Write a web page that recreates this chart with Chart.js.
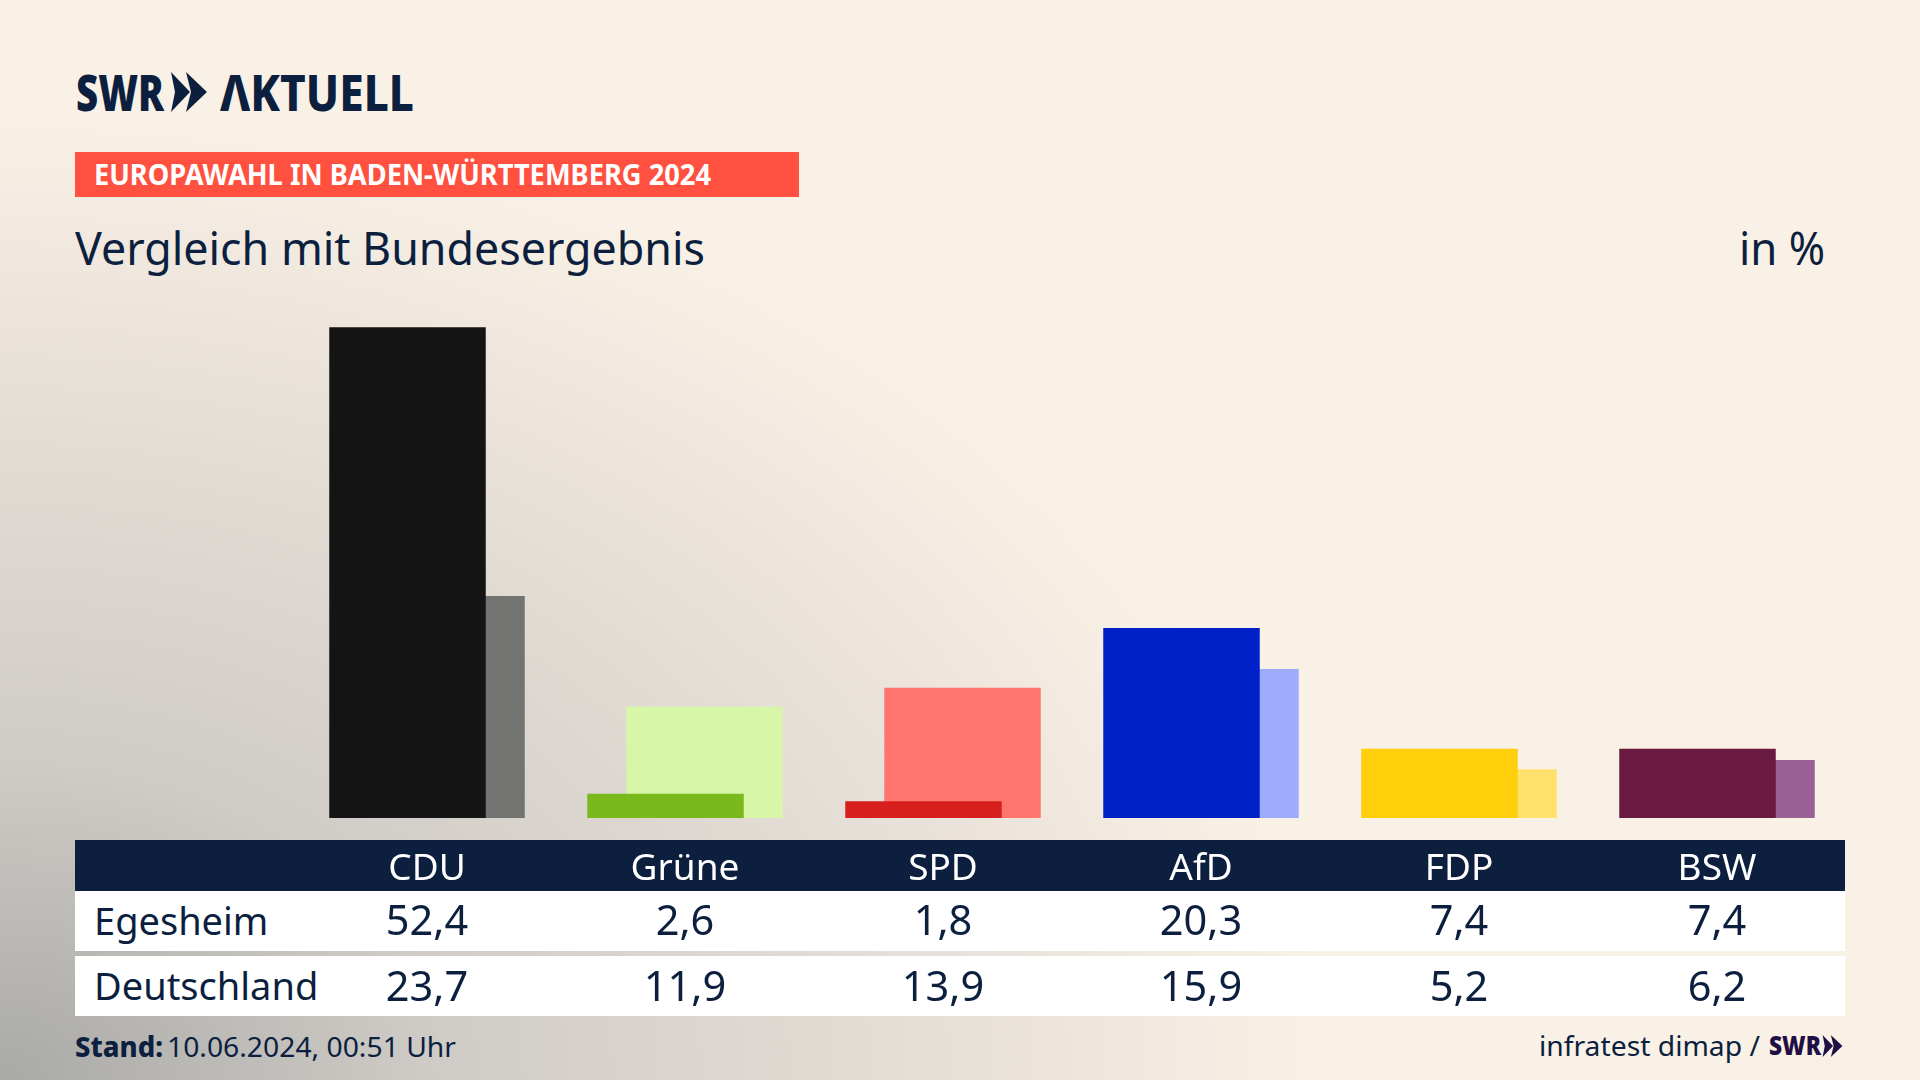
<!DOCTYPE html>
<html lang="de">
<head>
<meta charset="utf-8">
<title>Vergleich mit Bundesergebnis</title>
<script src="https://cdn.jsdelivr.net/npm/chart.js@4"></script>
<style>
  html, body { margin: 0; padding: 0; }
  body {
    width: 1920px; height: 1080px; position: relative; overflow: hidden;
    background: radial-gradient(ellipse 1450px 1060px at 0% 100%, #a9a9a7 0%, #cfcbc6 30%, #e2dbd4 58%, #faf1e6 92%), #faf1e6;
    font-family: "Noto Sans", sans-serif; color: #0c1f3f;
  }
  .abs { position: absolute; white-space: nowrap; transform-origin: left center; line-height: 1; }
  .box { position: absolute; }
  #chartWrap { position: absolute; left: 298px; top: 303px; width: 1548px; height: 597px; }
</style>
</head>
<body>
<div class="box" style="left:75px;top:152px;width:724px;height:45px;background:#ff5040"></div>
<div class="box" style="left:75px;top:840px;width:1770px;height:51px;background:#0c1f3f"></div>
<div class="box" style="left:75px;top:891px;width:1770px;height:60px;background:#fff"></div>
<div class="box" style="left:75px;top:956px;width:1770px;height:60px;background:#fff"></div>

<div id="chartWrap"><canvas id="resultChart"></canvas></div>

<div class="abs" data-w="88" style="left:76px;top:67px;font-size:50px;font-weight:900">SWR</div>
<svg class="box" style="left:171px;top:72px" width="36" height="40" viewBox="0 0 36 40">
  <polygon points="0,0 19,20 0,40 4,20" fill="#0c1f3f"/>
  <polygon points="15,0 36,20 15,40 20,20" fill="#0c1f3f"/>
</svg>
<div class="abs" data-w="194" style="left:220px;top:67px;font-size:50px;font-weight:800">ΛKTUELL</div>
<div class="abs" data-w="617" style="left:94px;top:160px;font-size:28px;font-weight:700;color:#fff">EUROPAWAHL IN BADEN-WÜRTTEMBERG 2024</div>
<div class="abs" data-w="630" style="left:75px;top:225px;font-size:45px">Vergleich mit Bundesergebnis</div>
<div class="abs" data-w="86" style="left:1739px;top:225px;font-size:45px">in %</div>
<div class="abs" data-w="88" style="left:75px;top:1032px;font-size:28px;font-weight:800">Stand:</div>
<div class="abs" data-w="289" style="left:167px;top:1032px;font-size:28px">10.06.2024, 00:51 Uhr</div>
<div class="abs" data-w="221" style="left:1539px;top:1031px;font-size:28px">infratest dimap /</div>
<div class="abs" data-w="52" style="left:1769px;top:1031px;font-size:27px;font-weight:900;color:#1f0f45">SWR</div>
<svg class="box" style="left:1822px;top:1035px" width="21" height="22" viewBox="0 0 36 40">
  <polygon points="0,0 19,20 0,40 4,20" fill="#1f0f45"/>
  <polygon points="15,0 36,20 15,40 20,20" fill="#1f0f45"/>
</svg>

<script>
const parties = ['CDU', 'Grüne', 'SPD', 'AfD', 'FDP', 'BSW'];
const egesheim = [52.4, 2.6, 1.8, 20.3, 7.4, 7.4];
const deutschland = [23.7, 11.9, 13.9, 15.9, 5.2, 6.2];
const rowLabels = ['Egesheim', 'Deutschland'];
const egesheimColors = ['#141414', '#7ab91b', '#d7201e', '#0020c8', '#ffcf0c', '#6a1a40'];
const deutschlandColors = ['#737371', '#d7f6a8', '#ff746c', '#9eacff', '#ffe16c', '#9b6096'];

const chart = new Chart(document.getElementById('resultChart'), {
  type: 'bar',
  data: {
    labels: parties,
    datasets: [
      { label: rowLabels[0], data: egesheim, backgroundColor: egesheimColors },
      { label: rowLabels[1], data: deutschland, backgroundColor: deutschlandColors },
    ],
  },
  options: {
    responsive: true,
    maintainAspectRatio: false,
    animation: false,
    // bars overlap: the step between them is 39px, the bar itself about 156px
    categoryPercentage: 78 / 258,
    barPercentage: 156.5 / 39,
    layout: { padding: 0 },
    plugins: { legend: { display: false }, tooltip: { enabled: false } },
    scales: {
      x: {
        grid: { display: false },
        border: { display: false },
        ticks: {
          color: '#fff',
          padding: 21,
          maxRotation: 0,
          font: { family: 'Noto Sans', size: 37 },
        },
        afterFit: scale => { scale.height = 82; },
      },
      y: { display: false, min: 0, max: 55 },
    },
  },
});

function fmt(v) {
  return v.toFixed(1).replace('.', ',');
}

function addText(text, left, top, size) {
  const el = document.createElement('div');
  el.className = 'abs';
  el.textContent = text;
  el.style.left = left + 'px';
  el.style.top = top + 'px';
  el.style.fontSize = size + 'px';
  document.body.appendChild(el);
  return el;
}

// table rows, columns follow the chart's category scale
[egesheim, deutschland].forEach((row, r) => {
  addText(rowLabels[r], 94, 901 + r * 65, 38);
  row.forEach((v, i) => {
    const cx = 298 + chart.scales.x.getPixelForValue(i);
    const el = addText(fmt(v), cx, 899 + r * 66, 41.5);
    el.style.transform = 'translateX(-50%)';
  });
});

// squeeze the header texts to the measured widths
document.querySelectorAll('[data-w]').forEach(el => {
  const w = el.getBoundingClientRect().width;
  el.style.transform = 'scaleX(' + (Number(el.dataset.w) / w) + ')';
});
</script>
</body>
</html>
